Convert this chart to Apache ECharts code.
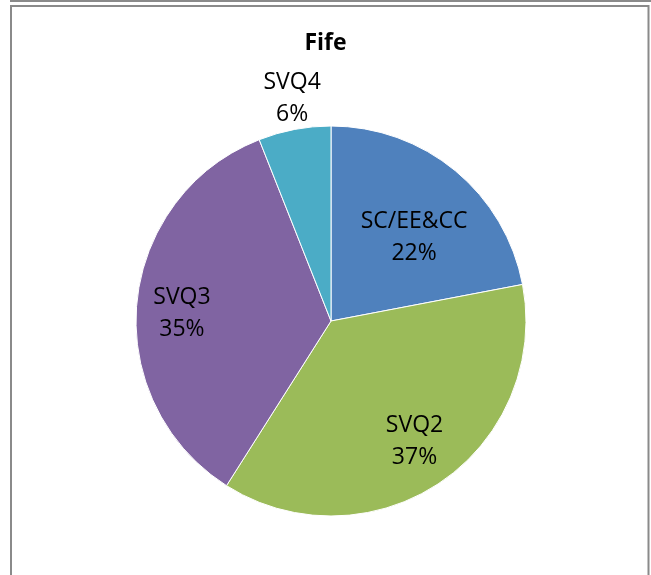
<!DOCTYPE html>
<html>
<head>
<meta charset="utf-8">
<style>
  html, body { margin: 0; padding: 0; background: #fff; }
  #main { width: 651px; height: 575px; }
</style>
<script src="https://cdn.jsdelivr.net/npm/echarts@6/dist/echarts.min.js"></script>
</head>
<body>
<div id="main"></div>
<script>
const title = 'Fife'
const categories = ['SC/EE&CC', 'SVQ2', 'SVQ3', 'SVQ4']
const shares = [22, 37, 35, 6]
const colors = ['#4F81BD', '#9BBB59', '#8064A2', '#4BACC6']
// nudge labels from the ECharts "inside" spot to where Excel put them
const labelOffsets = [[19, -6], [27, 37], [-49, 2], [-20, -124]]

const chart = echarts.init(document.getElementById('main'))

const option = {
  backgroundColor: '#fff',
  animation: false,
  title: {
    text: title,
    left: 'center',
    top: 27,
    textStyle: {
      fontFamily: 'Open Sans',
      fontWeight: 'bold',
      fontSize: 23,
      color: '#000'
    }
  },
  graphic: [
    {
      type: 'line',
      shape: { x1: 10, y1: 1, x2: 651, y2: 1 },
      style: { stroke: '#8a8a8a', lineWidth: 2 }
    },
    {
      type: 'rect',
      shape: { x: 11, y: 6, width: 637.5, height: 600 },
      style: { fill: 'none', stroke: '#8a8a8a', lineWidth: 2 }
    }
  ],
  series: [
    {
      type: 'pie',
      center: [331, 321],
      radius: [0, 195],
      startAngle: 90,
      clockwise: true,
      itemStyle: { borderColor: '#fff', borderWidth: 1 },
      label: {
        show: true,
        position: 'inside',
        formatter: '{b}\n{d}%',
        fontFamily: 'Open Sans',
        fontSize: 23,
        lineHeight: 32,
        color: '#000'
      },
      labelLine: { show: false },
      data: categories.map((name, i) => ({
        name: name,
        value: shares[i],
        itemStyle: { color: colors[i] },
        label: { offset: labelOffsets[i] }
      }))
    }
  ]
}

chart.setOption(option)
</script>
</body>
</html>
